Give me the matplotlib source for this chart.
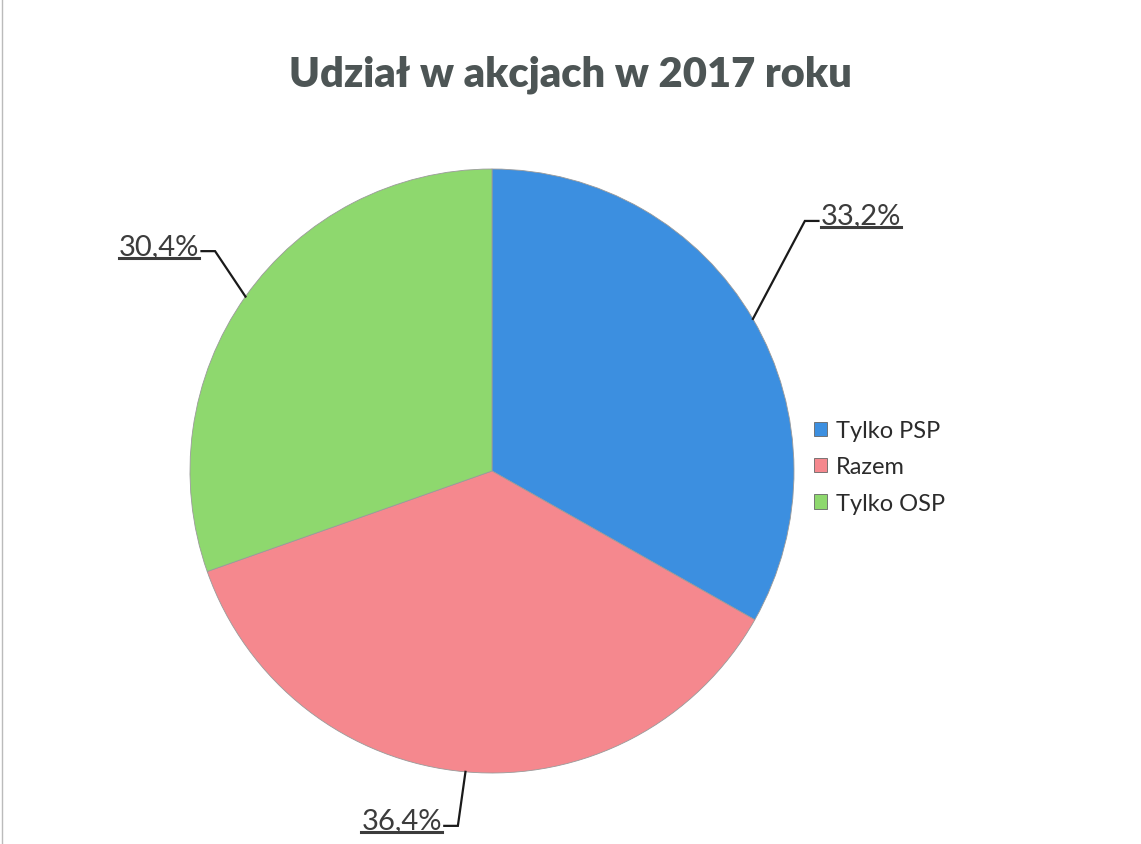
import numpy as np
import matplotlib
matplotlib.use('Agg')
import matplotlib.pyplot as plt
from matplotlib.lines import Line2D

plt.rcParams['font.family'] = ['Lato', 'DejaVu Sans']

# data
labels = ['Tylko PSP', 'Razem', 'Tylko OSP']
shares = [33.2, 36.4, 30.4]
colors = ['#3c8fe0', '#f5888e', '#8ed86e']
pct_text = ['33,2%', '36,4%', '30,4%']

W, H = 1141, 845
fig = plt.figure(figsize=(W / 100, H / 100), dpi=100)

# pie axes placed by pixel centre / radius
cx, cy, r = 492, 472, 302
ax = fig.add_axes([(cx - r) / W, (H - cy - r) / H, 2 * r / W, 2 * r / H])
wedges, _ = ax.pie(shares, colors=colors, startangle=90, counterclock=False,
                   radius=1.0, wedgeprops=dict(linewidth=0.6, edgecolor='#9a9a9a'))
ax.set_xlim(-1, 1)
ax.set_ylim(-1, 1)
ax.set_aspect('equal')
ax.axis('off')

# elbow offsets for leader lines (axes units, relative to pie radius)
elbows = [(1.036, 0.828), (-0.113, -1.175), (-0.917, 0.728)]
fig.canvas.draw()
renderer = fig.canvas.get_renderer()
for w, txt, (ex, ey) in zip(wedges, pct_text, elbows):
    mid = np.deg2rad((w.theta1 + w.theta2) / 2)
    px, py = np.cos(mid), np.sin(mid)
    side = 1 if ex > 0 else -1
    hx = ex + side * 0.045
    ax.plot([px, ex, hx], [py, ey, ey], color='#1a1a1a', lw=1.6,
            clip_on=False, solid_joinstyle='miter')
    t = ax.text(hx + side * 0.008, ey - 0.008, txt, fontsize=21, color='#3c3c3c',
                ha='left' if side > 0 else 'right', va='baseline')
    bb = t.get_window_extent(renderer=renderer)
    inv = fig.transFigure.inverted()
    (x0, y0), (x1, _) = inv.transform([(bb.x0, bb.y0), (bb.x1, bb.y1)])
    fig.add_artist(Line2D([x0, x1], [y0 + 1 / H, y0 + 1 / H], color='#3c3c3c', lw=2.2))

fig.text(570 / W, 1 - 75 / H, 'Udział w akcjach w 2017 roku', fontsize=30,
         fontweight='heavy', color='#4d5555', ha='center', va='center')

handles = [plt.Rectangle((0, 0), 1, 1, facecolor=c, edgecolor='#666666', lw=0.6)
           for c in colors]
leg = fig.legend(handles, labels, loc='center left', bbox_to_anchor=(793 / W, 1 - 468 / H),
                 frameon=False, fontsize=17, handlelength=0.55, handleheight=0.55,
                 handletextpad=0.35, labelspacing=0.65, labelcolor='#2b2b2b')

# faint scan border on the left
fig.add_artist(Line2D([2 / W, 2 / W], [0, 1], color='#bbbbbb', lw=1))

fig.savefig('out.png', dpi=100)
